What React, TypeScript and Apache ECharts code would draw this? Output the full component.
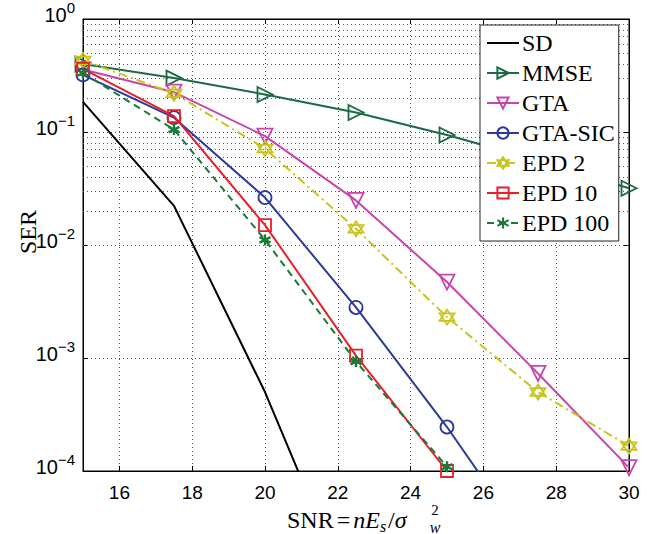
import React, { useEffect, useRef } from "react";
import * as echarts from "echarts";

// SNR sample points (x axis)
const snr = [15, 17.5, 20, 22.5, 25, 27.5, 30];

// SER values (log scale)
const sdVals = [0.185, 0.0222, 5.0e-4, 6e-6];
const mmseVals = [0.4, 0.3, 0.215, 0.149, 0.094, 0.056, 0.0318];
const gtaVals = [0.357, 0.225, 0.092, 0.0248, 0.0047, 7.3e-4, 1.07e-4];
const gtaSicVals = [0.32, 0.134, 0.0263, 0.0028, 2.45e-4, 1.7e-5];
const epd2Vals = [0.43, 0.22, 0.0713, 0.0139, 0.0023, 5.0e-4, 1.66e-4];
const epd10Vals = [0.362, 0.138, 0.015, 1.05e-3, 1.0e-4];
const epd100Vals = [0.333, 0.105, 0.0111, 9.3e-4, 1.09e-4];

const seriesNames = ["SD", "MMSE", "GTA", "GTA-SIC", "EPD 2", "EPD 10", "EPD 100"];

// minor grid (log decades x mantissas)
const decades = [1e-4, 1e-3, 1e-2, 1e-1];
const mantissas = [2, 3, 4, 5, 6, 7, 8, 9];

const serif = "'Liberation Serif', 'Times New Roman', serif";
const sans = "'Liberation Sans', Arial, sans-serif";

const pair = (vals: number[]) => vals.map((v, i) => [snr[i], v]);

export default function App() {
  const ref = useRef<HTMLDivElement>(null);
  useEffect(() => {
    if (!ref.current) return;
    const chart = echarts.init(ref.current, undefined, { renderer: "svg" });

    const minorLines: any[] = [];
    decades.forEach((d) => mantissas.forEach((m) => minorLines.push({ yAxis: d * m })));

    const gridLine = { color: "#555", width: 1, type: [1, 3] as any };

    const mk = (
      name: string,
      vals: number[],
      color: string,
      symbol: string,
      size: number,
      lineType: any,
      extra: any = {}
    ) => ({
      name,
      type: "line",
      data: pair(vals),
      clip: true,
      symbol,
      symbolSize: size,
      lineStyle: { color, width: 2, type: lineType },
      itemStyle: { color: "rgba(255,255,255,0)", borderColor: color, borderWidth: 1.8 },
      z: 3,
      ...extra,
    });

    const option: any = {
      animation: false,
      backgroundColor: "#fff",
      grid: {
        left: 83,
        top: 17,
        right: 25,
        bottom: 63,
        show: true,
        borderColor: "#000",
        borderWidth: 1,
        backgroundColor: "transparent",
      },
      xAxis: [
        {
          type: "value",
          min: 15,
          max: 30,
          splitNumber: 7,
          minInterval: 2,
          maxInterval: 2,
          axisLine: { show: true, lineStyle: { color: "#000", width: 1 } },
          axisTick: { show: true, inside: true, length: 5, lineStyle: { color: "#000" } },
          axisLabel: {
            showMinLabel: false,
            margin: 12,
            color: "#000",
            fontFamily: sans,
            fontSize: 19,
          },
          splitLine: { show: true, lineStyle: gridLine },
        },
        {
          type: "value",
          position: "top",
          min: 15,
          max: 30,
          splitNumber: 7,
          minInterval: 2,
          maxInterval: 2,
          axisLine: { show: true, lineStyle: { color: "#000" } },
          axisTick: { show: true, inside: true, length: 5, lineStyle: { color: "#000" } },
          axisLabel: { show: false },
          splitLine: { show: false },
        },
      ],
      yAxis: [
        {
          type: "log",
          logBase: 10,
          min: 1e-4,
          max: 1,
          interval: 1,
          axisLine: { show: true, lineStyle: { color: "#000", width: 1 } },
          axisTick: { show: true, inside: true, length: 5, lineStyle: { color: "#000" } },
          axisLabel: {
            margin: 8,
            color: "#000",
            fontFamily: sans,
            padding: [0, 0, 8, 0],
            formatter: (v: number) => {
              const e = Math.round(Math.log10(v));
              return `{b|10}{s|${e < 0 ? "\u2212" + Math.abs(e) : e}}`;
            },
            rich: {
              b: { fontSize: 20, fontFamily: sans, color: "#000" },
              s: { fontSize: 15, fontFamily: sans, color: "#000", padding: [0, 0, 15, 0] },
            },
          },
          splitLine: { show: true, lineStyle: gridLine },
        },
        {
          type: "log",
          logBase: 10,
          min: 1e-4,
          max: 1,
          interval: 1,
          position: "right",
          axisLine: { show: true, lineStyle: { color: "#000" } },
          axisTick: { show: true, inside: true, length: 5, lineStyle: { color: "#000" } },
          axisLabel: { show: false },
          splitLine: { show: false },
        },
      ],
      legend: {
        orient: "vertical",
        left: 480,
        top: 25,
        padding: [6, 4, 6, 6],
        itemGap: 6,
        itemWidth: 32,
        itemHeight: 14,
        backgroundColor: "#fff",
        borderColor: "#222",
        borderWidth: 1,
        borderRadius: 0,
        data: seriesNames,
        formatter: "{t|{name}}",
        textStyle: {
          fontFamily: serif,
          fontSize: 24,
          color: "#000",
          lineHeight: 24,
          rich: {
            t: { fontFamily: serif, fontSize: 24, color: "#000", lineHeight: 24, padding: [0, 0, 0, -2] },
          },
        },
        z: 10,
      },
      series: [
        {
          ...mk("SD", sdVals, "#000000", "circle", 0, "solid"),
          showSymbol: false,
          itemStyle: { color: "rgba(0,0,0,0)", borderColor: "rgba(0,0,0,0)", borderWidth: 0 },
          markLine: {
            silent: true,
            symbol: "none",
            label: { show: false },
            lineStyle: gridLine,
            data: minorLines,
            z: 1,
          },
        },
        mk("MMSE", mmseVals, "#1b6a44", "path://M0,0 L10,5 L0,10 Z", 15, "solid"),
        mk("GTA", gtaVals, "#c845ab", "path://M0,0 L10,0 L5,9 Z", 15, "solid"),
        mk("GTA-SIC", gtaSicVals, "#2c3a9c", "circle", 13, "solid"),
        mk(
          "EPD 2",
          epd2Vals,
          "#c9c41c",
          "path://M0,-10 L8.66,5 L-8.66,5 Z M0,10 L-8.66,-5 L8.66,-5 Z",
          15,
          [9, 4, 2, 4]
        ),
        mk("EPD 10", epd10Vals, "#e8202a", "rect", 12, "solid"),
        {
          ...mk(
            "EPD 100",
            epd100Vals,
            "#1a7a38",
            "path://M0,-5 L0,5 M-4.33,-2.5 L4.33,2.5 M-4.33,2.5 L4.33,-2.5",
            11,
            [7, 5]
          ),
          itemStyle: { color: "#1a7a38", borderColor: "#1a7a38", borderWidth: 2.4 },
        },
      ],
      graphic: [
        {
          type: "text",
          x: 28,
          y: 232,
          rotation: Math.PI / 2,
          style: {
            text: "SER",
            fontFamily: serif,
            fontSize: 24,
            fill: "#000",
            align: "center",
            verticalAlign: "middle",
          },
        },
        {
          type: "text",
          x: 287,
          y: 520,
          style: {
            text: "{r|SNR}{e|=}{i|nE}{sub|s}{r|/}{i|\u03c3}",
            align: "left",
            verticalAlign: "middle",
            rich: {
              r: { fontFamily: serif, fontSize: 24, fill: "#000" },
              e: { fontFamily: serif, fontSize: 24, fill: "#000", padding: [0, 3, 0, 3] },
              i: { fontFamily: serif, fontSize: 24, fontStyle: "italic", fill: "#000" },
              sub: { fontFamily: serif, fontSize: 16, fontStyle: "italic", fill: "#000", padding: [12, 2, 0, 0] },
            },
          },
        },
        {
          type: "text",
          x: 435,
          y: 510,
          style: { text: "2", fontFamily: serif, fontSize: 15, fill: "#000", align: "center", verticalAlign: "middle" },
        },
        {
          type: "text",
          x: 435,
          y: 527,
          style: {
            text: "w",
            fontFamily: serif,
            fontSize: 16,
            fontStyle: "italic",
            fill: "#000",
            align: "center",
            verticalAlign: "middle",
          },
        },
      ],
    };

    chart.setOption(option);
    return () => chart.dispose();
  }, []);

  return (
    <div
      ref={ref}
      style={{ position: "fixed", left: 0, top: 0, width: 654, height: 534, background: "#fff" }}
    />
  );
}
